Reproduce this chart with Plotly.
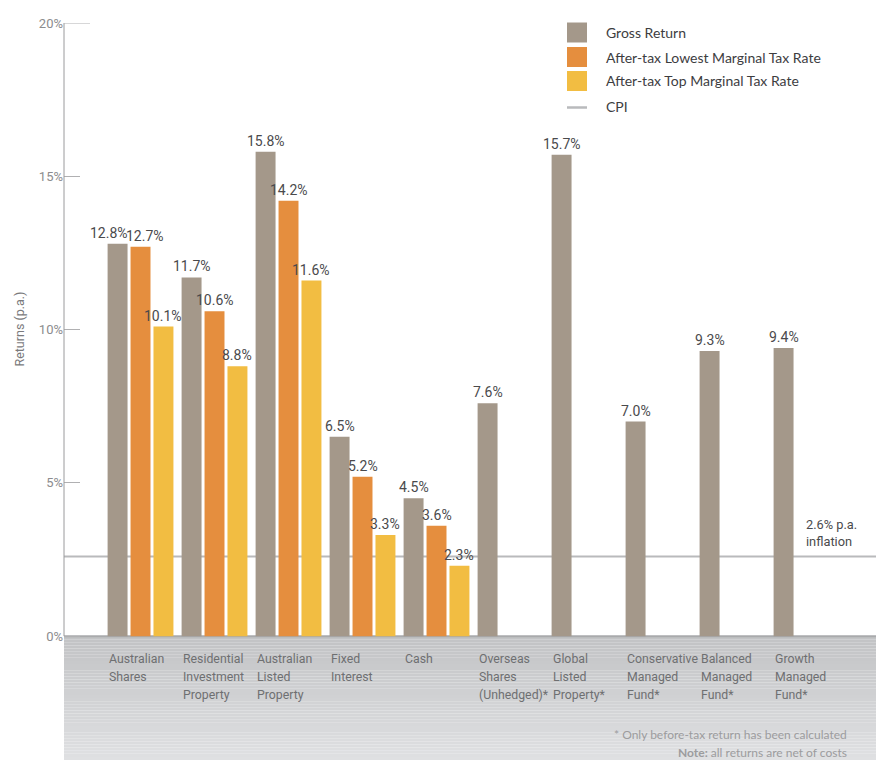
import plotly.graph_objects as go

# ---------------- data ----------------
categories = [
    "Australian<br>Shares",
    "Residential<br>Investment<br>Property",
    "Australian<br>Listed<br>Property",
    "Fixed<br>Interest",
    "Cash",
    "Overseas<br>Shares<br>(Unhedged)*",
    "Global<br>Listed<br>Property*",
    "Conservative<br>Managed<br>Fund*",
    "Balanced<br>Managed<br>Fund*",
    "Growth<br>Managed<br>Fund*",
]
gross_return = [12.8, 11.7, 15.8, 6.5, 4.5, 7.6, 15.7, 7.0, 9.3, 9.4]
after_tax_lowest = [12.7, 10.6, 14.2, 5.2, 3.6, None, None, None, None, None]
after_tax_top = [10.1, 8.8, 11.6, 3.3, 2.3, None, None, None, None, None]
cpi = 2.6
series_names = ["Gross Return", "After-tax Lowest Marginal Tax Rate",
                "After-tax Top Marginal Tax Rate", "CPI"]
y_ticks = [0, 5, 10, 15, 20]

# ---------------- style ----------------
W, H = 876, 760
ML, MT = 64, 23
PW, PH = W - ML, H - MT
YMIN, YMAX = -4.04, 20
PX_PER_UNIT = PH / (YMAX - YMIN)
COND = "Roboto, Liberation Sans, sans-serif"
REG = "Lato, Noto Sans, sans-serif"
col_gross = "#a4988a"
col_low = "#e58e3e"
col_top = "#f2bd42"
col_cpi = "#b9babc"
BARGAP, BARGROUPGAP = 0.07, 0.13
XR = [-1.034, 9.939]
UNIT_PX = PW / (XR[1] - XR[0])
SLOT_PX = UNIT_PX * (1 - BARGAP) / 3


def px_x(px):
    return (px - ML) / PW


def px_y(py):
    return (H - py) / PH


series = [(gross_return, series_names[0], col_gross),
          (after_tax_lowest, series_names[1], col_low),
          (after_tax_top, series_names[2], col_top)]

fig = go.Figure()
for vals, name, col in series:
    fig.add_trace(go.Bar(
        x=categories, y=vals, name=name, marker=dict(color=col, line=dict(width=0)),
        showlegend=False, hoverinfo="skip"))

shapes = []
# grey gradient area below zero
N = 40
c0 = (194, 195, 197)
c1 = (223, 224, 226)
for i in range(N):
    t = i / (N - 1)
    c = tuple(round(c0[k] + (c1[k] - c0[k]) * t) for k in range(3))
    shapes.append(dict(type="rect", xref="paper", yref="y", x0=0, x1=1,
                       y0=YMIN * i / N, y1=YMIN * (i + 1) / N,
                       fillcolor="rgb(%d,%d,%d)" % c, line=dict(width=0), layer="below"))
# zero line
shapes.append(dict(type="line", xref="paper", yref="y", x0=0, x1=1, y0=0, y1=0,
                   line=dict(color="#a9aaac", width=2), layer="below"))
# CPI line
shapes.append(dict(type="line", xref="paper", yref="y", x0=0, x1=1, y0=cpi, y1=cpi,
                   line=dict(color=col_cpi, width=2), layer="below"))
# y axis line (0 to 20 only) and long top tick
shapes.append(dict(type="line", xref="paper", yref="y", x0=0, x1=0, y0=0, y1=YMAX,
                   line=dict(color="#9a9a9c", width=1)))
shapes.append(dict(type="line", xref="paper", yref="y", x0=0, x1=px_x(90), y0=YMAX, y1=YMAX,
                   line=dict(color="#b0b0b2", width=1)))

annotations = []
# value labels (nudged apart when neighbouring labels would collide)
for ci, cat in enumerate(categories):
    vals = [s[0][ci] for s in series]
    shifts = [(k - 1) * SLOT_PX for k in range(3)]
    for k in range(2):
        a, b = vals[k], vals[k + 1]
        if a is not None and b is not None and abs(a - b) * PX_PER_UNIT < 14:
            shifts[k] -= 9
            shifts[k + 1] += 4
    for k in range(3):
        v = vals[k]
        if v is None:
            continue
        annotations.append(dict(x=cat, y=v, xref="x", yref="y", text=f"{v:.1f}%",
                                showarrow=False, xanchor="center", yanchor="bottom",
                                xshift=shifts[k], yshift=1,
                                font=dict(family=COND, size=14, color="#4a4a4c")))
# category labels, one annotation per line for the reference's 18px line spacing
for cat in categories:
    for j, line in enumerate(cat.split("<br>")):
        annotations.append(dict(x=cat, y=0, xref="x", yref="y", text=line, showarrow=False,
                                xanchor="left", yanchor="top", xshift=-34, yshift=-14 - 18 * j,
                                align="left",
                                font=dict(family=COND, size=12.3, color="#6e6f71")))
# custom legend
leg_rows = [32.5, 57, 81, 106]
leg_cols = [col_gross, col_low, col_top]
for i, name in enumerate(series_names):
    yc = leg_rows[i]
    if i < 3:
        shapes.append(dict(type="rect", xref="paper", yref="paper",
                           x0=px_x(567), x1=px_x(587), y0=px_y(yc + 10), y1=px_y(yc - 10),
                           fillcolor=leg_cols[i], line=dict(width=0)))
    else:
        shapes.append(dict(type="line", xref="paper", yref="paper",
                           x0=px_x(567), x1=px_x(587), y0=px_y(yc + 1.5), y1=px_y(yc + 1.5),
                           line=dict(color=col_cpi, width=2.5)))
    annotations.append(dict(x=px_x(604), y=px_y(yc), xref="paper", yref="paper", text=name,
                            showarrow=False, xanchor="left", yanchor="middle",
                            font=dict(family=REG, size=14, color="#3d3d3f")))
# CPI note
annotations.append(dict(x=px_x(804), y=cpi, xref="paper", yref="y",
                        text=f"{cpi}% p.a.<br>inflation", showarrow=False,
                        xanchor="left", yanchor="bottom", yshift=5, align="left",
                        font=dict(family=COND, size=12.8, color="#4a4a4c")))
# y axis title
annotations.append(dict(x=px_x(20), y=10, xref="paper", yref="y", text="Returns (p.a.)",
                        textangle=-90, showarrow=False, xanchor="center", yanchor="middle",
                        font=dict(family=COND, size=12.5, color="#7a7a7c")))
# footnotes
annotations.append(dict(x=px_x(849), y=px_y(734), xref="paper", yref="paper",
                        text="* Only before-tax return has been calculated", showarrow=False,
                        xanchor="right", yanchor="middle",
                        font=dict(family=REG, size=12, color="#9c9c9e")))
annotations.append(dict(x=px_x(849), y=px_y(752), xref="paper", yref="paper",
                        text="<b>Note:</b> all returns are net of costs", showarrow=False,
                        xanchor="right", yanchor="middle",
                        font=dict(family=REG, size=12, color="#9c9c9e")))

fig.update_layout(
    width=W, height=H, margin=dict(l=ML, r=0, t=MT, b=0, autoexpand=False),
    paper_bgcolor="white", plot_bgcolor="white",
    barmode="group", bargap=BARGAP, bargroupgap=BARGROUPGAP,
    shapes=shapes, annotations=annotations, showlegend=False,
    xaxis=dict(range=XR, showticklabels=False, showgrid=False,
               zeroline=False, showline=False, ticks=""),
    yaxis=dict(range=[YMIN, YMAX], tickmode="array", tickvals=y_ticks,
               ticktext=[f"{v}%" for v in y_ticks],
               ticks="inside", ticklen=16, tickcolor="#b0b0b2", showgrid=False,
               zeroline=False, showline=False,
               tickfont=dict(family=COND, size=13, color="#8c8c8e")),
)

fig.write_html("out.html", config={"displayModeBar": False},
               post_script="document.body.style.margin='0';document.body.style.overflow='hidden';")
